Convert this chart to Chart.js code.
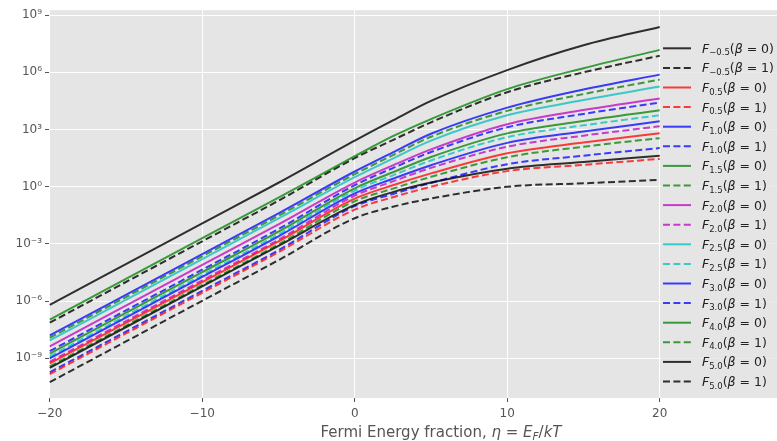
<!DOCTYPE html>
<html>
<head>
<meta charset="utf-8">
<script src="https://cdn.jsdelivr.net/npm/chart.js@4.4.0/dist/chart.umd.min.js"></script>
<style>
  html, body { margin: 0; padding: 0; background: #fff; }
  #wrap { width: 777px; height: 441px; }
</style>
</head>
<body>
<div id="wrap"><canvas id="fermiChart" width="777" height="441"></canvas></div>
<script>
var etaPoints = [-20, -10, -5, 0, 2.5, 5, 10, 15, 20];

// log10 of each integral at etaPoints (estimated from the plot)
var fm05b0 = [-9.5, -5.23, -3.1, -0.95, -0.28, 0.22, 0.95, 1.3, 1.63];
var fm05b1 = [-10.25, -5.98, -3.85, -1.65, -1.05, -0.62, 0.0, 0.18, 0.36];
var f05b0 = [-9.27, -5.0, -2.87, -0.62, 0.08, 0.7, 1.76, 2.32, 2.81];
var f05b1 = [-9.83, -5.56, -3.43, -1.2, -0.55, 0.0, 0.82, 1.15, 1.46];
var f10b0 = [-9.0, -4.73, -2.6, -0.35, 0.42, 1.13, 2.3, 2.9, 3.43];
var f10b1 = [-9.73, -5.46, -3.33, -1.02, -0.38, 0.2, 1.18, 1.63, 2.03];
var f15b0 = [-8.75, -4.48, -2.35, -0.08, 0.76, 1.56, 2.8, 3.45, 4.01];
var f15b1 = [-9.42, -5.15, -3.02, -0.76, -0.1, 0.52, 1.55, 2.1, 2.55];
var f20b0 = [-8.37, -4.1, -1.97, 0.22, 1.12, 1.96, 3.28, 4.02, 4.63];
var f20b1 = [-9.18, -4.91, -2.78, -0.47, 0.28, 0.99, 2.1, 2.68, 3.17];
var f25b0 = [-8.06, -3.79, -1.66, 0.5, 1.48, 2.42, 3.75, 4.55, 5.26];
var f25b1 = [-8.9, -4.63, -2.5, -0.2, 0.6, 1.38, 2.6, 3.22, 3.75];
var f30b0 = [-7.8, -3.53, -1.4, 0.8, 1.8, 2.78, 4.15, 5.1, 5.88];
var f30b1 = [-8.62, -4.35, -2.22, 0.08, 0.98, 1.82, 3.12, 3.82, 4.42];
var f40b0 = [-6.97, -2.7, -0.57, 1.6, 2.65, 3.55, 5.12, 6.22, 7.18];
var f40b1 = [-7.92, -3.65, -1.52, 0.66, 1.66, 2.62, 3.98, 4.86, 5.62];
var f50b0 = [-6.19, -1.92, 0.21, 2.42, 3.48, 4.5, 6.12, 7.42, 8.38];
var f50b1 = [-7.13, -2.86, -0.73, 1.5, 2.45, 3.38, 4.96, 6.0, 6.87];

var orders = ['\u22120.5', '0.5', '1.0', '1.5', '2.0', '2.5', '3.0', '4.0', '5.0'];
var seriesB0 = [fm05b0, f05b0, f10b0, f15b0, f20b0, f25b0, f30b0, f40b0, f50b0];
var seriesB1 = [fm05b1, f05b1, f10b1, f15b1, f20b1, f25b1, f30b1, f40b1, f50b1];
var lineColors = ['rgba(0,0,0,0.8)', 'rgba(255,0,0,0.75)', 'rgba(0,0,255,0.75)', 'rgba(0,128,0,0.75)',
                  'rgba(191,0,191,0.75)', 'rgba(0,191,191,0.75)', 'rgba(0,0,255,0.75)', 'rgba(0,128,0,0.75)', 'rgba(0,0,0,0.8)'];

var xTicks = [-20, -10, 0, 10, 20];
var yTickExps = [-9, -6, -3, 0, 3, 6, 9];

var FONT = '"DejaVu Sans", sans-serif';
var sup = { '0': '\u2070', '1': '\u00b9', '2': '\u00b2', '3': '\u00b3', '4': '\u2074', '5': '\u2075',
            '6': '\u2076', '7': '\u2077', '8': '\u2078', '9': '\u2079', '-': '\u207b' };

function toPoints(logs) {
    var pts = [];
    for (var i = 0; i < etaPoints.length; i++) {
        pts.push({ x: etaPoints[i], y: Math.pow(10, logs[i]) });
    }
    return pts;
}

var datasets = [];
for (var i = 0; i < orders.length; i++) {
    [seriesB0[i], seriesB1[i]].forEach(function(vals, b) {
        datasets.push({
            label: 'F' + orders[i] + '(\u03b2 = ' + b + ')',
            sub: orders[i],
            beta: '' + b,
            data: toPoints(vals),
            borderColor: lineColors[i],
            borderWidth: 2,
            borderDash: b ? [7, 3.4] : [],
            pointRadius: 0,
            fill: false,
            cubicInterpolationMode: 'monotone'
        });
    });
}

// grey plot background
var plotBackground = {
    id: 'plotBackground',
    beforeDraw: function(chart) {
        var a = chart.chartArea, ctx = chart.ctx;
        ctx.save();
        ctx.fillStyle = '#E5E5E5';
        ctx.fillRect(a.left, a.top, a.right - a.left, a.bottom - a.top);
        ctx.restore();
    }
};

// legend with subscripts, drawn inside the axes on the right
var mathLegend = {
    id: 'mathLegend',
    afterDraw: function(chart) {
        var ctx = chart.ctx;
        ctx.save();
        ctx.fillStyle = 'rgba(229,229,229,0.8)';
        ctx.fillRect(661, 37, 116, 356);
        chart.data.datasets.forEach(function(ds, i) {
            var y = 48.3 + i * 19.6;
            ctx.strokeStyle = ds.borderColor;
            ctx.lineWidth = 2;
            ctx.setLineDash(ds.borderDash);
            ctx.beginPath();
            ctx.moveTo(663, y);
            ctx.lineTo(691, y);
            ctx.stroke();
            ctx.setLineDash([]);

            var x = 702, base = y + 4.5;
            ctx.fillStyle = '#222';
            ctx.textAlign = 'left';
            ctx.textBaseline = 'alphabetic';
            var parts = [
                ['F', 'italic 12.5px ' + FONT, 0],
                [ds.sub, '8.5px ' + FONT, 2.5],
                ['(', '12.5px ' + FONT, 0],
                ['\u03b2', 'italic 12.5px ' + FONT, 0],
                [' = ' + ds.beta + ')', '12.5px ' + FONT, 0]
            ];
            parts.forEach(function(p) {
                ctx.font = p[1];
                ctx.fillText(p[0], x, base + p[2]);
                x += ctx.measureText(p[0]).width;
            });
        });
        ctx.restore();
    }
};

// x axis title with math parts
var axisTitle = {
    id: 'axisTitle',
    afterDraw: function(chart) {
        var ctx = chart.ctx;
        var parts = [
            ['Fermi Energy fraction, ', '15px ' + FONT, 0],
            ['\u03b7', 'italic 15px ' + FONT, 0],
            [' = ', '15px ' + FONT, 0],
            ['E', 'italic 15px ' + FONT, 0],
            ['F', 'italic 10.5px ' + FONT, 2.5],
            ['/', '15px ' + FONT, 0],
            ['kT', 'italic 15px ' + FONT, 0]
        ];
        ctx.save();
        var total = 0;
        parts.forEach(function(p) { ctx.font = p[1]; total += ctx.measureText(p[0]).width; });
        var x = 441 - total / 2;
        ctx.fillStyle = '#555';
        ctx.textAlign = 'left';
        ctx.textBaseline = 'alphabetic';
        parts.forEach(function(p) {
            ctx.font = p[1];
            ctx.fillText(p[0], x, 437 + p[2]);
            x += ctx.measureText(p[0]).width;
        });
        ctx.restore();
    }
};

var ctx = document.getElementById('fermiChart').getContext('2d');
var fermiChart = new Chart(ctx, {
    type: 'line',
    data: { datasets: datasets },
    options: {
        responsive: false,
        devicePixelRatio: 1,
        animation: false,
        layout: { padding: { top: 7, right: 0, left: 0, bottom: 0 } },
        plugins: { legend: { display: false }, tooltip: { enabled: false } },
        scales: {
            x: {
                type: 'linear',
                min: -20.05,
                max: 27.69,
                afterBuildTicks: function(scale) {
                    scale.ticks = xTicks.map(function(v) { return { value: v }; });
                },
                afterFit: function(scale) { scale.height = 43; },
                grid: { color: '#ffffff', lineWidth: 1, tickColor: '#555', tickLength: 4 },
                border: { display: false },
                ticks: {
                    color: '#555',
                    padding: 5,
                    maxRotation: 0,
                    font: { family: 'DejaVu Sans', size: 12 },
                    callback: function(v) { return v < 0 ? '\u2212' + Math.abs(v) : '' + v; }
                }
            },
            y: {
                type: 'logarithmic',
                min: Math.pow(10, -11.08),
                max: Math.pow(10, 9.26),
                afterBuildTicks: function(scale) {
                    scale.ticks = yTickExps.map(function(e) { return { value: Math.pow(10, e) }; });
                },
                afterFit: function(scale) { scale.width = 49; },
                grid: { color: '#ffffff', lineWidth: 1, tickColor: '#555', tickLength: 4 },
                border: { display: false },
                ticks: {
                    color: '#555',
                    padding: 3,
                    font: { family: 'DejaVu Sans', size: 12 },
                    callback: function(v) {
                        var e = String(Math.round(Math.log10(v)));
                        var s = '';
                        for (var k = 0; k < e.length; k++) s += sup[e[k]];
                        return '10' + s;
                    }
                }
            }
        }
    },
    plugins: [plotBackground, mathLegend, axisTitle]
});
</script>
</body>
</html>
